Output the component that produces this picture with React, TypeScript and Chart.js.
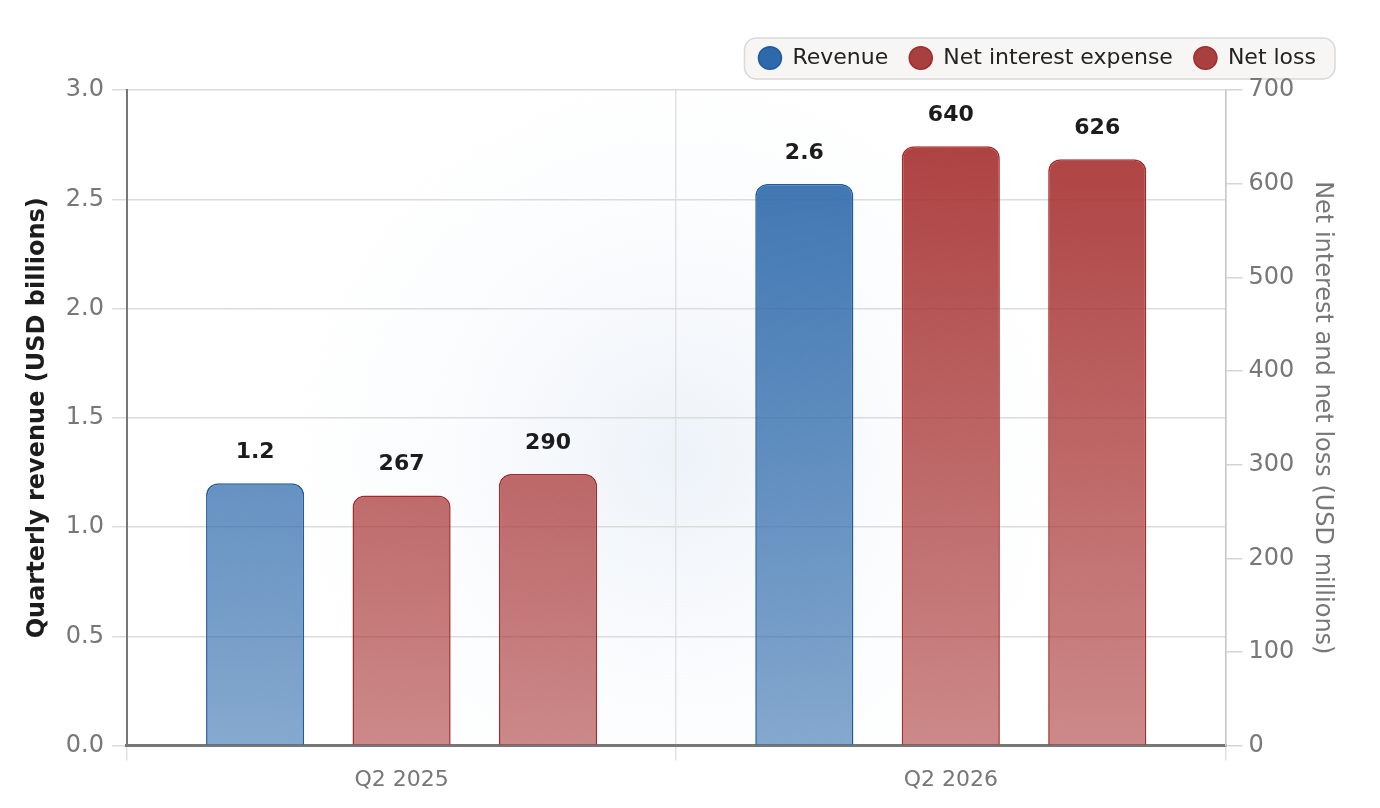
import { useEffect, useRef } from 'react';
import { Chart, registerables } from 'chart.js';

Chart.register(...registerables);

const quarters = ['Q2 2025', 'Q2 2026'];
const revenue = [1.2, 2.57]; // USD billions
const netInterestExpense = [267, 640]; // USD millions
const netLoss = [290, 626]; // USD millions

const BLUE = [46, 106, 171];
const RED = [168, 52, 52];

const FONT = '"DejaVu Sans", sans-serif';

function fade(rgb: number[]) {
  return (ctx: any) => {
    const area = ctx.chart.chartArea;
    if (!area) return `rgb(${rgb.join(',')})`;
    const g = ctx.chart.ctx.createLinearGradient(0, area.top, 0, area.bottom);
    g.addColorStop(0, `rgba(${rgb.join(',')},0.96)`);
    g.addColorStop(1, `rgba(${rgb.join(',')},0.58)`);
    return g;
  };
}

// leaves a little more room under the legend
const legendGap = {
  id: 'legendGap',
  beforeInit(chart: any) {
    const fit = chart.legend.fit;
    chart.legend.fit = function () {
      fit.bind(chart.legend)();
      this.height += 11;
    };
  },
};

const backdrop = {
  id: 'backdrop',
  beforeDraw(chart: any) {
    const { ctx, chartArea: a, legend } = chart;
    ctx.save();
    const cx = (a.left + a.right) / 2;
    const cy = (a.top + a.bottom) / 2 + 40;
    const rg = ctx.createRadialGradient(cx, cy, 0, cx, cy, 480);
    rg.addColorStop(0, 'rgba(222,232,244,0.55)');
    rg.addColorStop(1, 'rgba(255,255,255,0)');
    ctx.fillStyle = rg;
    ctx.fillRect(a.left, a.top, a.right - a.left, a.bottom - a.top);

    const boxes = legend?.legendHitBoxes || [];
    if (boxes.length) {
      const l = Math.min(...boxes.map((b: any) => b.left)) - 14;
      const r = Math.max(...boxes.map((b: any) => b.left + b.width)) + 19;
      const cy2 = boxes[0].top + boxes[0].height / 2;
      ctx.beginPath();
      ctx.roundRect(l, cy2 - 20, r - l, 41, 12);
      ctx.fillStyle = '#f7f6f4';
      ctx.fill();
      ctx.lineWidth = 1.5;
      ctx.strokeStyle = '#d9d9d9';
      ctx.stroke();
    }
    ctx.restore();
  },
};

const valueLabels = {
  id: 'valueLabels',
  afterDatasetsDraw(chart: any) {
    const { ctx } = chart;
    ctx.save();
    ctx.font = `bold 22px ${FONT}`;
    ctx.fillStyle = '#1c1c1c';
    ctx.textAlign = 'center';
    ctx.textBaseline = 'middle';
    chart.data.datasets.forEach((ds: any, i: number) => {
      chart.getDatasetMeta(i).data.forEach((bar: any, j: number) => {
        const v = ds.data[j];
        const txt = i === 0 ? v.toFixed(1) : String(v);
        ctx.fillText(txt, bar.x, bar.y - 31);
      });
    });
    ctx.restore();
  },
};

export default function App() {
  const canvasRef = useRef<HTMLCanvasElement>(null);
  const chartRef = useRef<Chart | null>(null);

  useEffect(() => {
    document.body.style.margin = '0';
    if (!canvasRef.current) return;
    if (chartRef.current) chartRef.current.destroy();

    chartRef.current = new Chart(canvasRef.current, {
      type: 'bar',
      data: {
        labels: quarters,
        datasets: [
          {
            label: 'Revenue',
            data: revenue,
            yAxisID: 'y',
            backgroundColor: fade(BLUE),
            borderColor: '#1f5c9e',
            borderWidth: 1.5,
            borderRadius: { topLeft: 12, topRight: 12 },
            borderSkipped: 'bottom',
          },
          {
            label: 'Net interest expense',
            data: netInterestExpense,
            yAxisID: 'y1',
            backgroundColor: fade(RED),
            borderColor: '#a52a2a',
            borderWidth: 1.5,
            borderRadius: { topLeft: 12, topRight: 12 },
            borderSkipped: 'bottom',
          },
          {
            label: 'Net loss',
            data: netLoss,
            yAxisID: 'y1',
            backgroundColor: fade(RED),
            borderColor: '#a52a2a',
            borderWidth: 1.5,
            borderRadius: { topLeft: 12, topRight: 12 },
            borderSkipped: 'bottom',
          },
        ] as any,
      },
      options: {
        animation: false,
        responsive: true,
        maintainAspectRatio: false,
        categoryPercentage: 0.8,
        barPercentage: 0.67,
        layout: { padding: { top: 26, right: 43, bottom: 9, left: 10 } },
        plugins: {
          legend: {
            position: 'top',
            align: 'end',
            labels: {
              color: '#222',
              font: { family: FONT, size: 22 },
              usePointStyle: true,
              pointStyle: 'circle',
              boxHeight: 16,
              pointStyleWidth: 23,
              padding: 21,
              generateLabels: (chart: any) =>
                chart.data.datasets.map((ds: any, i: number) => ({
                  text: ds.label,
                  fillStyle: i === 0 ? '#2e6aab' : '#a84040',
                  strokeStyle: i === 0 ? '#1f5c9e' : '#a52a2a',
                  lineWidth: 1.5,
                  pointStyle: 'circle',
                  datasetIndex: i,
                  fontColor: '#222',
                })),
            },
          },
          tooltip: { enabled: false },
        },
        scales: {
          x: {
            offset: true,
            grid: { offset: true, color: '#e2e2e2', lineWidth: 1.5, tickLength: 15 },
            border: { color: '#777', width: 3 },
            ticks: { color: '#777', font: { family: FONT, size: 22 }, padding: 6 },
          },
          y: {
            position: 'left',
            min: 0,
            max: 3,
            grid: { color: '#dcdcdc', lineWidth: 1.5, tickLength: 15 },
            border: { color: '#777', width: 2 },
            ticks: {
              stepSize: 0.5,
              color: '#777',
              font: { family: FONT, size: 24 },
              padding: 8,
              callback: (v: any) => Number(v).toFixed(1),
            },
            title: {
              display: true,
              text: 'Quarterly revenue (USD billions)',
              color: '#1c1c1c',
              font: { family: FONT, size: 24, weight: 'bold' },
              padding: { top: 13, bottom: 6 },
            },
          },
          y1: {
            position: 'right',
            min: 0,
            max: 700,
            grid: { drawOnChartArea: false, color: '#d4d4d4', lineWidth: 1.5, tickLength: 17 },
            border: { color: '#c8c8c8', width: 1.5 },
            ticks: {
              stepSize: 100,
              color: '#777',
              font: { family: FONT, size: 24 },
              padding: 6,
            },
            title: {
              display: true,
              text: 'Net interest and net loss (USD millions)',
              color: '#777',
              font: { family: FONT, size: 24 },
              padding: { top: 0, bottom: 8 },
            },
          },
        },
      } as any,
      plugins: [legendGap, backdrop, valueLabels],
    });

    return () => {
      if (chartRef.current) chartRef.current.destroy();
    };
  }, []);

  return (
    <div style={{ width: 1380, height: 808, position: 'relative', background: '#fff' }}>
      <canvas ref={canvasRef} />
    </div>
  );
}
